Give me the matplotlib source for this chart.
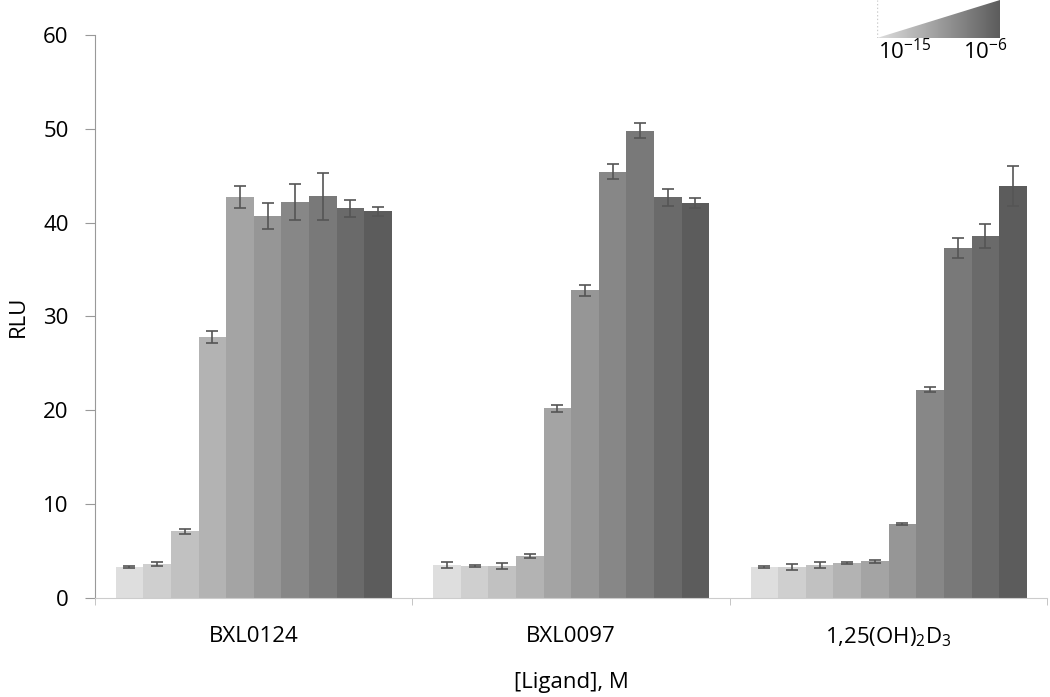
import numpy as np
import matplotlib
matplotlib.use('Agg')
import matplotlib.pyplot as plt
from matplotlib.patches import Polygon

plt.rcParams['font.family'] = ['Open Sans', 'DejaVu Sans']
plt.rcParams['mathtext.default'] = 'regular'

ligands = ['BXL0124', 'BXL0097', '1,25(OH)$_2$D$_3$']
doses = ['1e-15', '1e-14', '1e-13', '1e-12', '1e-11',
         '1e-10', '1e-9', '1e-8', '1e-7', '1e-6']

rlu_bxl0124 = [3.3, 3.6, 7.1, 27.8, 42.7, 40.7, 42.2, 42.8, 41.5, 41.2]
err_bxl0124 = [0.15, 0.2, 0.3, 0.6, 1.2, 1.4, 1.9, 2.5, 0.9, 0.5]
rlu_bxl0097 = [3.5, 3.4, 3.4, 4.5, 20.2, 32.8, 45.4, 49.8, 42.7, 42.1]
err_bxl0097 = [0.3, 0.1, 0.3, 0.2, 0.4, 0.6, 0.8, 0.8, 0.9, 0.5]
rlu_vd3 = [3.3, 3.3, 3.5, 3.7, 3.9, 7.9, 22.2, 37.3, 38.6, 43.9]
err_vd3 = [0.1, 0.3, 0.3, 0.1, 0.15, 0.1, 0.3, 1.1, 1.3, 2.1]

values = np.array([rlu_bxl0124, rlu_bxl0097, rlu_vd3])
errors = np.array([err_bxl0124, err_bxl0097, err_vd3])

n = len(doses)
greys = np.linspace(0.87, 0.36, n)
bar_w = 0.087
fs = 16

fig = plt.figure(figsize=(10.5, 6.97), dpi=100)
ax = fig.add_axes([0.0905, 0.142, 0.907, 0.808])

x = np.arange(len(ligands))
for i in range(n):
    pos = x - bar_w * n / 2 + bar_w * (i + 0.5)
    g = greys[i]
    ax.bar(pos, values[:, i], width=bar_w, color=(g, g, g), edgecolor='none')
    ax.errorbar(pos, values[:, i], yerr=errors[:, i], fmt='none',
                ecolor='#555555', elinewidth=1.2, capsize=4, capthick=1.2)

ax.set_xlim(-0.5, 2.5)
ax.set_ylim(0, 60)
ax.set_yticks(range(0, 61, 10))
ax.set_xticks(x)
ax.set_xticklabels(ligands)
ax.set_xticks([-0.5, 0.5, 1.5, 2.5], minor=True)
ax.tick_params(axis='x', which='major', length=0, labelsize=fs, pad=20)
ax.tick_params(axis='x', which='minor', length=5, color='#bbbbbb')
ax.tick_params(axis='y', length=7, color='#999999', labelsize=fs, pad=12)
for s in ['top', 'right']:
    ax.spines[s].set_visible(False)
ax.spines['left'].set_color('#999999')
ax.spines['bottom'].set_color('#cccccc')
ax.set_ylabel('RLU', fontsize=fs, labelpad=10)
ax.set_xlabel('[Ligand], M', fontsize=fs, labelpad=16)

# gradient triangle legend
lax = fig.add_axes([877 / 1050, 1 - 38 / 697, 123 / 1050, 38 / 697])
grad = np.linspace(greys[0], greys[-1], 256).reshape(1, -1)
im = lax.imshow(grad, cmap='gray', vmin=0, vmax=1, aspect='auto',
                extent=[0, 1, 0, 1])
tri = Polygon([[0, 0], [1, 1], [1, 0]], closed=True, transform=lax.transData)
im.set_clip_path(tri)
lax.plot([0, 0], [0, 1], ls=':', color='#cccccc', lw=1)
lax.set_xlim(0, 1)
lax.set_ylim(0, 1)
lax.axis('off')
fig.text(905 / 1050, 1 - 52 / 697, '$10^{-15}$', fontsize=fs,
         ha='center', va='center')
fig.text(985 / 1050, 1 - 52 / 697, '$10^{-6}$', fontsize=fs,
         ha='center', va='center')

fig.savefig('out.png', dpi=100)
